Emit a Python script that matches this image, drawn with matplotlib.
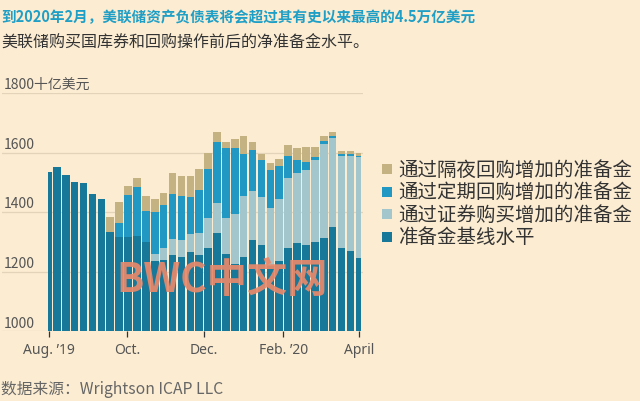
import pandas as pd
import matplotlib
matplotlib.use("Agg")
import matplotlib.pyplot as plt
import matplotlib.dates as mdates
from matplotlib.patches import Rectangle

plt.rcParams['font.family'] = ['Noto Sans CJK SC', 'DejaVu Sans']

# =========================
# DATA (weekly, $bn)
# =========================
week_start = ["2019-08-01"] + list(pd.date_range("2019-08-05", "2020-03-30", freq="7D").strftime("%Y-%m-%d"))
trading_days = [2] + [5] * 34 + [3]

base = [1535, 1550, 1525, 1502, 1497, 1462, 1445, 1335, 1315, 1318, 1320, 1300,
        1235, 1240, 1255, 1250, 1265, 1255, 1280, 1330, 1260, 1225, 1250, 1305,
        1290, 1220, 1235, 1280, 1295, 1290, 1300, 1312, 1350, 1280, 1270, 1245]
securities = [0, 0, 0, 0, 0, 0, 0, 0, 0, 0, 0, 0,
              25, 40, 55, 55, 60, 75, 100, 100, 120, 170, 205, 165,
              160, 195, 210, 235, 235, 250, 275, 318, 300, 310, 320, 340]
term_repo = [0, 0, 0, 0, 0, 0, 0, 0, 50, 140, 165, 105,
             140, 145, 150, 150, 125, 145, 165, 205, 235, 220, 140, 140,
             125, 125, 110, 75, 45, 30, 10, 10, 5, 5, 5, 5]
overnight_repo = [0, 0, 0, 0, 0, 0, 0, 50, 70, 30, 30, 50,
                  45, 40, 70, 65, 70, 70, 55, 35, 20, 30, 60, 25,
                  20, 25, 25, 35, 40, 50, 35, 15, 15, 10, 10, 10]

series_labels = ["通过隔夜回购增加的准备金", "通过定期回购增加的准备金",
                 "通过证券购买增加的准备金", "准备金基线水平"]
tick_dates = ["2019-08-01", "2019-10-01", "2019-12-01", "2020-02-01", "2020-04-01"]
tick_labels = ["Aug. \u201919", "Oct.", "Dec.", "Feb. \u201920", "April"]
y_ticks = [1000, 1200, 1400, 1600, 1800]

# =========================
# STYLE
# =========================
BG = "#fbecd2"
C_OVERNIGHT = "#c4b283"
C_TERM = "#2198c4"
C_SEC = "#a2c6cb"
C_BASE = "#17789a"
GRID = "#e2d3b9"
TXT = "#555555"

fig = plt.figure(figsize=(6.4, 4.02), dpi=100, facecolor=BG)
ax = fig.add_axes([2 / 640, 69.7 / 402, 361 / 640, 238.3 / 402])
ax.set_facecolor(BG)

starts = [mdates.date2num(pd.Timestamp(d)) for d in week_start]
centers = [s + (n - 1) / 2 for s, n in zip(starts, trading_days)]
widths = [n + 0.95 for n in trading_days]

bottom1 = base
bottom2 = [b + s for b, s in zip(base, securities)]
bottom3 = [b + t for b, t in zip(bottom2, term_repo)]

ax.bar(centers, base, width=widths, color=C_BASE, linewidth=0, zorder=2)
ax.bar(centers, securities, width=widths, bottom=bottom1, color=C_SEC, linewidth=0, zorder=2)
ax.bar(centers, term_repo, width=widths, bottom=bottom2, color=C_TERM, linewidth=0, zorder=2)
ax.bar(centers, overnight_repo, width=widths, bottom=bottom3, color=C_OVERNIGHT, linewidth=0, zorder=2)

aug1 = mdates.date2num(pd.Timestamp("2019-08-01"))
apr1 = mdates.date2num(pd.Timestamp("2020-04-01"))
ax.set_xlim(aug1 - 37.2, apr1 + 2.9)
ax.set_ylim(1000, 1800)

# gridlines + y labels sitting above them
for v in y_ticks:
    ax.axhline(v, color=GRID, lw=0.9, zorder=1)
    lab = "1800十亿美元" if v == 1800 else str(v)
    ax.text(0.005, v + 6, lab, transform=ax.get_yaxis_transform(),
            ha="left", va="bottom", fontsize=10, color=TXT)

for s in ax.spines.values():
    s.set_visible(False)
ax.set_yticks([])
ax.set_xticks([mdates.date2num(pd.Timestamp(d)) for d in tick_dates])
ax.set_xticklabels(tick_labels, fontsize=10, color=TXT, family=["Noto Sans", "DejaVu Sans"])
ax.tick_params(axis="x", length=4, width=0.9, color="#333333", pad=4)

# =========================
# TEXTS
# =========================
fig.text(0.002, 1 - 17 / 402, "到2020年2月，美联储资产负债表将会超过其有史以来最高的4.5万亿美元",
         fontsize=10.5, fontweight="bold", color="#1f9fc6", va="center", ha="left")
fig.text(0.002, 1 - 43 / 402, "美联储购买国库券和回购操作前后的净准备金水平。",
         fontsize=11.5, color="#333333", va="center", ha="left")
fig.text(0.002, 1 - 390 / 402, "数据来源：Wrightson ICAP LLC",
         fontsize=11.3, color="#666666", va="center", ha="left")

# legend (manual)
colors = [C_OVERNIGHT, C_TERM, C_SEC, C_BASE]
row_y = [170, 192.5, 215, 237.5]
for lab, c, y in zip(series_labels, colors, row_y):
    fig.add_artist(Rectangle((382 / 640, 1 - (y + 5) / 402), 10 / 640, 10 / 402,
                             transform=fig.transFigure, color=c, lw=0))
    fig.text(398 / 640, 1 - y / 402, lab, fontsize=14, color="#333333",
             va="center", ha="left")

# watermark
fig.text(222 / 640, 1 - 280 / 402, "BWC中文网", fontsize=29, fontweight="bold",
         color="#e8896a", alpha=0.92, ha="center", va="center", zorder=10)

fig.savefig("out.png", dpi=100, facecolor=BG)
